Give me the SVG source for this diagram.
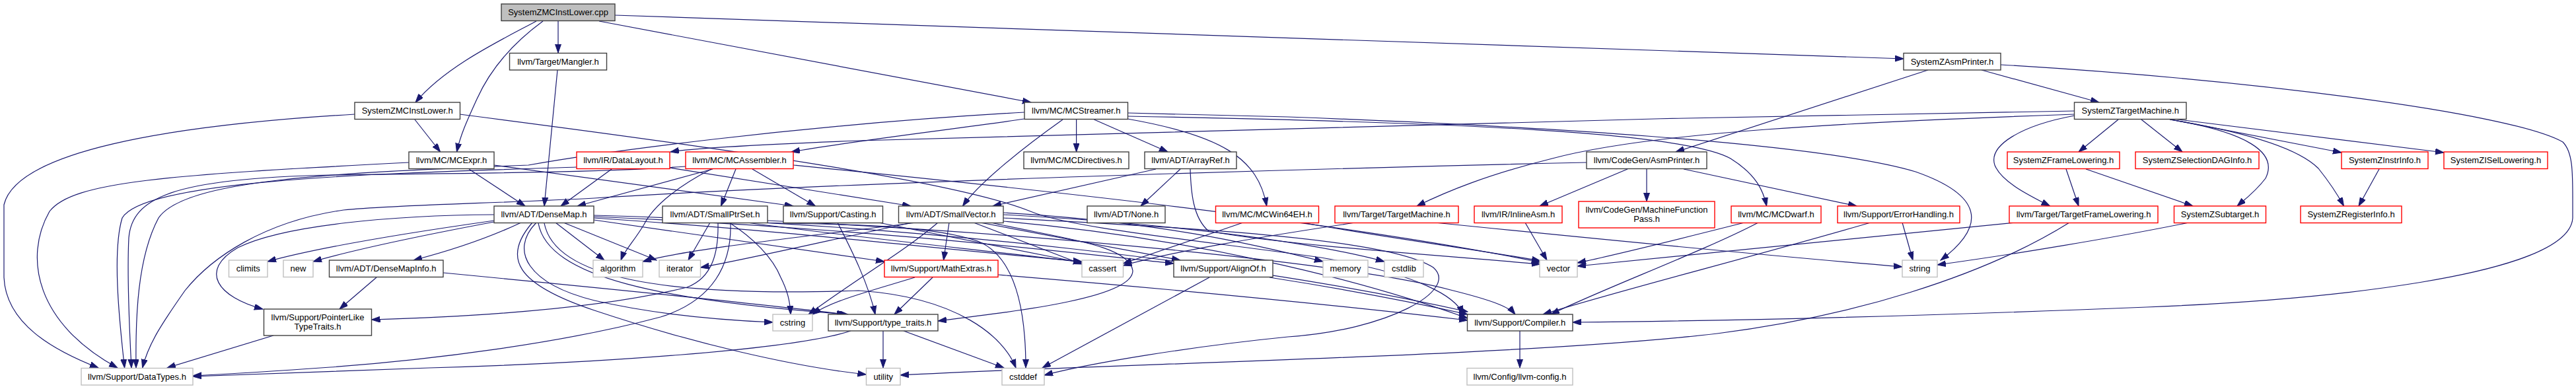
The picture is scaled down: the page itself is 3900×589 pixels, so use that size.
<svg xmlns="http://www.w3.org/2000/svg" width="3900" height="589" viewBox="0 0 3900 589">
<style>
.n rect{fill:#ffffff;stroke:#404040;stroke-width:1.4}
.r rect{fill:#ffffff;stroke:#ff0000;stroke-width:1.4}
.g rect{fill:#ffffff;stroke:#bfbfbf;stroke-width:1.4}
.root rect{fill:#bfbfbf;stroke:#404040;stroke-width:1.4}
text{font-family:"Liberation Sans",Arial,sans-serif;font-size:13px;fill:#000;text-anchor:middle}
.e path{fill:none;stroke:#191970;stroke-width:1.2;marker-end:url(#ah)}
</style>
<defs>
<marker id="ah" markerWidth="14" markerHeight="10" refX="13" refY="4.5" orient="auto" markerUnits="userSpaceOnUse"><path d="M0,0 L13,4.5 L0,9 z" fill="#191970" stroke="#191970" stroke-width="1"/></marker>
</defs>
<rect x="0" y="0" width="3900" height="589" fill="#ffffff"/>
<g id="edges" class="e">
<path d="M812,32 C760,60 675,100 629,155"/>
<path d="M822,32 C770,70 740,110 722,150 C706,185 697,205 691.5,230"/>
<path d="M845,32 L845,80"/>
<path d="M907,32 L1561,155"/>
<path d="M931,23 L2882,89"/>
<path d="M628,181 L666.6,230"/>
<path d="M537,173 C250,190 25,230 6,310 L6,420 C9,490 80,530 149,557"/>
<path d="M696,173 C1100,225 1450,275 1560,320 C1620,345 1800,362 2000,390 C2150,415 2205,450 2215,476"/>
<path d="M844,106 L824,312"/>
<path d="M1551,180 C1450,195 1300,212 1198,230"/>
<path d="M1629.6,181 L1629.6,230"/>
<path d="M1656.5,181 L1768,230"/>
<path d="M1609,181 C1540,230 1480,280 1457.5,312"/>
<path d="M1707,180 C1850,205 1905,240 1917.7,312"/>
<path d="M1707,171 L1950,177 C2300,190 2750,215 2900,260 C3000,295 3010,340 2938,394"/>
<path d="M1707,176 C2200,185 2550,200 2620,240 C2660,265 2670,290 2674.6,312"/>
<path d="M1551,170 C1200,190 900,232 800,250 C500,262 280,272 240,330 C208,390 205,480 206,557"/>
<path d="M873,253 C600,262 220,270 185,330 C170,380 180,480 188.6,557"/>
<path d="M1038,252 C900,262 700,262 500,265 C260,270 200,300 195,360 C192,420 196,500 199,557"/>
<path d="M619,246 C250,265 110,275 75,320 C35,390 55,490 178,557"/>
<path d="M2402,246 C2000,255 1300,275 900,300 C750,308 600,310 520,318 C400,335 320,390 280,440 C245,490 225,520 215.6,557"/>
<path d="M414,508 L252.9,557"/>
<path d="M1106,337 C1108,400 1080,455 1000,480 C850,520 650,545 500,556 C400,563 330,567 292,569"/>
<path d="M1288,501 C1200,530 900,550 650,557 C500,562 350,567 292,570"/>
<path d="M710,256 L795,312"/>
<path d="M748,250 L1201,312"/>
<path d="M926,256 L849,312"/>
<path d="M1014,254 L1379,312"/>
<path d="M1079,256 L874,312"/>
<path d="M1114,256 L1091.5,312"/>
<path d="M1139,256 L1234.5,312"/>
<path d="M1077,256 C1030,280 990,310 975,340 C960,365 945,380 940,394"/>
<path d="M1201,250 C1500,280 2000,330 2332,397"/>
<path d="M1787,256 L1727,312"/>
<path d="M1750,256 L1503,312"/>
<path d="M1802,256 C1803,290 1806,330 1830,350 C1950,372 2200,388 2332,400"/>
<path d="M2464,256 L2331,312"/>
<path d="M2493,256 L2493,305"/>
<path d="M2549,256 L2811,312"/>
<path d="M3000,106 L3178,155"/>
<path d="M2919,106 L2537,230"/>
<path d="M3029,98 C3400,120 3800,170 3880,215 C3895,230 3895,260 3895,300 L3895,330 C3890,420 3500,455 3250,465 C3000,475 2700,485 2381,488"/>
<path d="M3207,181 L3147,230"/>
<path d="M3242,181 L3304,230"/>
<path d="M3287,181 L3545,231"/>
<path d="M3290,180 L3700,231"/>
<path d="M3285,181 C3400,200 3450,230 3430,270 C3415,290 3395,305 3387,312"/>
<path d="M3285,181 C3400,200 3480,225 3510,255 C3530,280 3542,300 3548.5,312"/>
<path d="M3141,168 C2500,178 1600,200 1300,213 C1150,219 1050,224 1015,230"/>
<path d="M3141,173 C2800,185 2500,200 2350,240 C2250,265 2190,290 2145,312"/>
<path d="M3141,175 C3060,190 3010,220 3020,250 C3030,275 3070,295 3103.7,312"/>
<path d="M3128,256 L3147,312"/>
<path d="M3158,256 L3320,312"/>
<path d="M3602,256 L3571,312"/>
<path d="M789,337 C740,360 680,380 626,394"/>
<path d="M748,334 C600,355 480,375 405,396"/>
<path d="M748,336 C620,360 530,380 474,396"/>
<path d="M748,325 C600,326 430,340 360,375 C300,410 330,450 398,468"/>
<path d="M841,337 L915,394"/>
<path d="M853,337 L994,394"/>
<path d="M899,333 C1050,355 1200,375 1339,396"/>
<path d="M899,330 C1200,350 1450,380 1638,396"/>
<path d="M899,328 C1300,345 1600,380 1777,399"/>
<path d="M899,326 C1400,340 1900,400 2222,472"/>
<path d="M815,338 C830,420 1000,455 1284,476"/>
<path d="M812,337 C770,380 800,430 900,455 C1000,478 1100,485 1170,488"/>
<path d="M806,337 C760,390 780,430 900,470 C1050,520 1200,555 1311.5,567"/>
<path d="M824,338 C840,420 1000,450 1300,440 C1450,450 1520,510 1538,557"/>
<path d="M1075,337 L1042,394"/>
<path d="M1087,337 C1088,380 1080,420 1040,435 C900,470 700,480 562.5,484"/>
<path d="M1104,337 C1140,360 1170,390 1182,420 C1192,440 1196,455 1197,476"/>
<path d="M1131,337 C1300,360 1500,380 1638,397"/>
<path d="M1150,337 C1250,340 1400,338 1480,365 C1530,385 1553,450 1553,557"/>
<path d="M1162,334 C1600,355 2050,400 2200,440 C2260,455 2285,465 2294,476"/>
<path d="M1268,337 C1290,380 1315,430 1325,476"/>
<path d="M1330,337 C1450,360 1550,380 1638,398"/>
<path d="M1437,337 L1428.5,394"/>
<path d="M1474,337 L1638,400"/>
<path d="M1484,337 L1787,394"/>
<path d="M1387,337 C1250,355 1050,375 973,396"/>
<path d="M1381,337 C1250,365 1120,395 1060.5,405"/>
<path d="M1420,337 C1370,380 1300,420 1224,476"/>
<path d="M1500,337 C1600,360 1710,370 1715,410 C1715,450 1550,470 1420,486"/>
<path d="M1519,330 C1800,345 2100,360 2170,405 C2210,440 2100,500 1950,510 C1800,525 1650,550 1581,568"/>
<path d="M1519,325 C1800,340 2000,370 2096,396"/>
<path d="M1519,322 C1750,335 1900,370 2003,396"/>
<path d="M1519,335 C1800,360 2050,420 2222,482"/>
<path d="M1412,420 L1354,476"/>
<path d="M1385,420 C1320,440 1260,455 1230,476"/>
<path d="M1511,416 C1800,440 2050,465 2222,485"/>
<path d="M1831,420 L1578,557"/>
<path d="M1922,420 C2050,440 2150,460 2222,476"/>
<path d="M1882,337 L1700.5,399"/>
<path d="M1971,337 C2100,360 2250,380 2332,395"/>
<path d="M2052,337 C1900,360 1780,380 1700.5,402"/>
<path d="M2172,337 C2400,360 2650,385 2880,404"/>
<path d="M2309,337 L2342,394"/>
<path d="M2641,337 C2550,360 2450,385 2388,398"/>
<path d="M2662,337 C2580,380 2420,440 2348,476"/>
<path d="M2880,337 L2896,394"/>
<path d="M2832,337 C2650,390 2450,440 2336,476"/>
<path d="M3052,337 C2800,360 2550,385 2388,403"/>
<path d="M3133,337 C3000,420 2800,480 2600,505 C2300,540 1700,550 1363,568"/>
<path d="M3314,337 C3200,360 3050,385 2933,401"/>
<path d="M570,420 L514,468"/>
<path d="M671,413 C900,435 1150,460 1280,476"/>
<path d="M1337,501 L1337,557"/>
<path d="M1368,501 L1520,557"/>
<path d="M2301,501 L2301,557"/>
</g>
<g id="n-cpp" class="root"><rect x="759" y="6" width="172" height="25.5"/><text x="845" y="23.3">SystemZMCInstLower.cpp</text></g>
<g id="n-mangler" class="n"><rect x="771.5" y="80.5" width="147" height="25.5"/><text x="845" y="97.8">llvm/Target/Mangler.h</text></g>
<g id="n-asmp" class="n"><rect x="2882" y="80.5" width="147" height="25.5"/><text x="2955.5" y="97.8">SystemZAsmPrinter.h</text></g>
<g id="n-milh" class="n"><rect x="537" y="155" width="159.5" height="25.5"/><text x="616.7" y="172.3">SystemZMCInstLower.h</text></g>
<g id="n-strm" class="n"><rect x="1551" y="155" width="156.5" height="25.5"/><text x="1629.2" y="172.3">llvm/MC/MCStreamer.h</text></g>
<g id="n-ztm" class="n"><rect x="3140.5" y="155" width="169.5" height="25.5"/><text x="3225.2" y="172.3">SystemZTargetMachine.h</text></g>
<g id="n-mcexpr" class="n"><rect x="619" y="230" width="129" height="25.5"/><text x="683.5" y="247.3">llvm/MC/MCExpr.h</text></g>
<g id="n-dl" class="r"><rect x="873" y="230" width="141" height="25.5"/><text x="943.5" y="247.3">llvm/IR/DataLayout.h</text></g>
<g id="n-asm" class="r"><rect x="1038" y="230" width="163" height="25.5"/><text x="1119.5" y="247.3">llvm/MC/MCAssembler.h</text></g>
<g id="n-dir" class="n"><rect x="1550" y="230" width="159" height="25.5"/><text x="1629.5" y="247.3">llvm/MC/MCDirectives.h</text></g>
<g id="n-aref" class="n"><rect x="1733" y="230" width="139" height="25.5"/><text x="1802.5" y="247.3">llvm/ADT/ArrayRef.h</text></g>
<g id="n-ap" class="n"><rect x="2402" y="230" width="182" height="25.5"/><text x="2493" y="247.3">llvm/CodeGen/AsmPrinter.h</text></g>
<g id="n-zfl" class="r"><rect x="3039" y="230" width="170" height="25.5"/><text x="3124" y="247.3">SystemZFrameLowering.h</text></g>
<g id="n-zsdi" class="r"><rect x="3233" y="230" width="187" height="25.5"/><text x="3326.5" y="247.3">SystemZSelectionDAGInfo.h</text></g>
<g id="n-zii" class="r"><rect x="3545" y="230" width="131" height="25.5"/><text x="3610.5" y="247.3">SystemZInstrInfo.h</text></g>
<g id="n-zisl" class="r"><rect x="3700" y="230" width="157" height="25.5"/><text x="3778.5" y="247.3">SystemZISelLowering.h</text></g>
<g id="n-dm" class="n"><rect x="748" y="312" width="151" height="25.5"/><text x="823.5" y="329.3">llvm/ADT/DenseMap.h</text></g>
<g id="n-sps" class="n"><rect x="1003" y="312" width="159" height="25.5"/><text x="1082.5" y="329.3">llvm/ADT/SmallPtrSet.h</text></g>
<g id="n-cast" class="n"><rect x="1186" y="312" width="150.5" height="25.5"/><text x="1261.2" y="329.3">llvm/Support/Casting.h</text></g>
<g id="n-sv" class="n"><rect x="1360.5" y="312" width="158.5" height="25.5"/><text x="1439.7" y="329.3">llvm/ADT/SmallVector.h</text></g>
<g id="n-none" class="n"><rect x="1646" y="312" width="118" height="25.5"/><text x="1705" y="329.3">llvm/ADT/None.h</text></g>
<g id="n-w64" class="r"><rect x="1840.5" y="312" width="156" height="25.5"/><text x="1918.5" y="329.3">llvm/MC/MCWin64EH.h</text></g>
<g id="n-tm" class="r"><rect x="2021" y="312" width="187" height="25.5"/><text x="2114.5" y="329.3">llvm/Target/TargetMachine.h</text></g>
<g id="n-ia" class="r"><rect x="2232" y="312" width="133" height="25.5"/><text x="2298.5" y="329.3">llvm/IR/InlineAsm.h</text></g>
<g id="n-mfp" class="r"><rect x="2390" y="305" width="206" height="40"/><text x="2493" y="321.5">llvm/CodeGen/MachineFunction</text><text x="2493" y="335.5">Pass.h</text></g>
<g id="n-dw" class="r"><rect x="2621" y="312" width="136" height="25.5"/><text x="2689" y="329.3">llvm/MC/MCDwarf.h</text></g>
<g id="n-eh" class="r"><rect x="2782" y="312" width="185" height="25.5"/><text x="2874.5" y="329.3">llvm/Support/ErrorHandling.h</text></g>
<g id="n-tfl" class="r"><rect x="3042" y="312" width="225" height="25.5"/><text x="3154.5" y="329.3">llvm/Target/TargetFrameLowering.h</text></g>
<g id="n-zst" class="r"><rect x="3291.5" y="312" width="139" height="25.5"/><text x="3361" y="329.3">SystemZSubtarget.h</text></g>
<g id="n-zri" class="r"><rect x="3483" y="312" width="153" height="25.5"/><text x="3559.5" y="329.3">SystemZRegisterInfo.h</text></g>
<g id="n-climits" class="g"><rect x="346.5" y="394" width="58.5" height="25.5"/><text x="375.7" y="411.3">climits</text></g>
<g id="n-new" class="g"><rect x="429" y="394" width="45" height="25.5"/><text x="451.5" y="411.3">new</text></g>
<g id="n-dmi" class="n"><rect x="498.5" y="394" width="172.5" height="25.5"/><text x="584.7" y="411.3">llvm/ADT/DenseMapInfo.h</text></g>
<g id="n-algorithm" class="g"><rect x="898" y="394" width="75" height="25.5"/><text x="935.5" y="411.3">algorithm</text></g>
<g id="n-iterator" class="g"><rect x="998" y="394" width="62.5" height="25.5"/><text x="1029.2" y="411.3">iterator</text></g>
<g id="n-mex" class="r"><rect x="1339" y="394" width="172" height="25.5"/><text x="1425" y="411.3">llvm/Support/MathExtras.h</text></g>
<g id="n-cassert" class="g"><rect x="1638" y="394" width="62.5" height="25.5"/><text x="1669.2" y="411.3">cassert</text></g>
<g id="n-align" class="n"><rect x="1777" y="394" width="150" height="25.5"/><text x="1852" y="411.3">llvm/Support/AlignOf.h</text></g>
<g id="n-memory" class="g"><rect x="2003" y="394" width="68" height="25.5"/><text x="2037" y="411.3">memory</text></g>
<g id="n-cstdlib" class="g"><rect x="2096" y="394" width="59" height="25.5"/><text x="2125.5" y="411.3">cstdlib</text></g>
<g id="n-vector" class="g"><rect x="2331" y="394" width="57" height="25.5"/><text x="2359.5" y="411.3">vector</text></g>
<g id="n-string" class="g"><rect x="2880" y="394" width="53" height="25.5"/><text x="2906.5" y="411.3">string</text></g>
<g id="n-plt" class="n"><rect x="399.5" y="468" width="163" height="40"/><text x="481" y="484.5">llvm/Support/PointerLike</text><text x="481" y="498.5">TypeTraits.h</text></g>
<g id="n-cstring" class="g"><rect x="1170" y="476" width="60" height="25"/><text x="1200" y="493">cstring</text></g>
<g id="n-tt" class="n"><rect x="1254" y="476" width="166" height="25"/><text x="1337" y="493">llvm/Support/type_traits.h</text></g>
<g id="n-comp" class="n"><rect x="2221.5" y="476" width="159.5" height="25"/><text x="2301.2" y="493">llvm/Support/Compiler.h</text></g>
<g id="n-dt" class="g"><rect x="123" y="557.5" width="169" height="25.5"/><text x="207.5" y="574.8">llvm/Support/DataTypes.h</text></g>
<g id="n-utility" class="g"><rect x="1311.5" y="557.5" width="51.5" height="25.5"/><text x="1337.2" y="574.8">utility</text></g>
<g id="n-cstddef" class="g"><rect x="1517" y="557.5" width="64" height="25.5"/><text x="1549" y="574.8">cstddef</text></g>
<g id="n-cfg" class="g"><rect x="2221" y="557.5" width="160" height="25.5"/><text x="2301" y="574.8">llvm/Config/llvm-config.h</text></g>
</svg>
